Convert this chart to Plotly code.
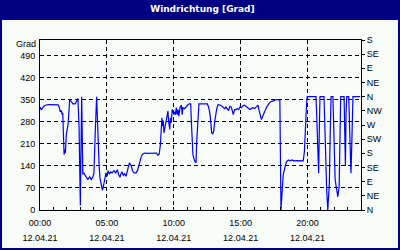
import pandas as pd
import plotly.graph_objects as go

DAY = "2021-04-12"
times = ["00:00","00:06","00:12","00:21","00:36","00:58","01:21","01:27","01:31","01:36","01:39","01:42","01:45","01:48","01:51","01:54","01:58","02:06","02:10","02:13","02:20","02:28","02:38","02:44","02:50","02:55","02:58","03:01","03:04","03:07","03:12","03:17","03:26","03:35","03:43","03:50","03:58","04:02","04:08","04:11","04:14","04:17","04:20","04:25","04:29","04:35","04:40","04:46","04:50","04:56","05:01","05:05","05:11","05:17","05:23","05:32","05:40","05:47","05:53","05:59","06:03","06:08","06:14","06:20","06:26","06:32","06:41","06:50","06:56","07:02","07:11","07:17","07:23","07:29","07:35","07:41","07:50","08:04","08:19","08:34","08:43","08:49","08:55","09:00","09:04","09:07","09:10","09:13","09:16","09:21","09:27","09:31","09:34","09:37","09:42","09:45","09:49","09:53","09:56","10:01","10:04","10:08","10:11","10:16","10:19","10:23","10:28","10:34","10:38","10:41","10:49","10:56","11:04","11:13","11:16","11:19","11:22","11:26","11:34","11:40","11:43","11:47","11:53","12:01","12:16","12:31","12:37","12:43","12:47","12:50","12:55","12:59","13:04","13:08","13:13","13:19","13:28","13:34","13:43","13:49","13:54","14:00","14:06","14:12","14:18","14:23","14:27","14:33","14:39","14:45","14:51","14:57","15:03","15:09","15:15","15:21","15:27","15:33","15:41","15:48","15:55","16:03","16:10","16:18","16:22","16:27","16:33","16:39","16:45","16:51","16:57","17:06","17:15","17:24","17:33","17:42","17:51","17:56","18:01","18:07","18:11","18:19","18:26","18:34","18:41","18:50","18:59","19:13","19:26","19:41","19:46","19:49","19:53","19:56","19:59","20:38","20:41","20:46","20:50","20:53","20:56","21:14","21:16","21:22","21:26","21:31","21:35","21:38","21:42","21:46","21:54","21:57","22:04","22:11","22:16","22:22","22:26","22:29","22:44","22:47","22:50","22:53","22:56","23:05","23:08","23:11","23:15","23:18","23:21","23:24","23:56"]
degrees = [327,318,325,332,335,335,334,325,312,316,303,309,261,176,192,181,240,272,314,351,344,337,337,344,354,272,102,14,200,360,115,117,106,97,106,97,106,118,250,303,360,303,229,144,102,81,62,81,96,118,107,125,114,121,118,125,118,128,112,104,115,121,110,115,107,121,150,139,123,118,118,125,139,160,171,178,181,180,180,179,181,174,178,208,282,293,266,284,245,266,287,303,314,282,256,293,277,319,314,303,312,303,325,303,319,298,325,333,303,325,322,329,335,338,337,282,208,176,155,150,218,282,337,337,337,337,325,303,271,245,242,250,282,303,322,335,333,331,325,322,327,322,316,329,327,314,303,319,319,322,319,327,325,330,333,331,327,322,319,322,325,322,327,333,319,301,287,298,308,319,327,337,344,346,348,351,350,350,0,85,111,137,154,159,156,159,156,157,156,156,185,254,312,339,360,360,307,191,117,254,360,360,307,191,64,0,64,85,250,360,360,250,96,64,42,74,265,360,360,200,140,307,360,360,286,181,117,191,286,360,360]

left_vals = [0, 70, 140, 210, 280, 350, 420, 490]
unit_label = "Grad"
right_vals = [0, 45, 90, 135, 180, 225, 270, 315, 360, 405, 450, 495, 540]
right_text = ["N", "NE", "E", "SE", "S", "SW", "W", "NW", "N", "NE", "E", "SE", "S"]
x_range = ["2021-04-12 00:00", "2021-04-13 00:00"]
y_range = [0, 540]

x = pd.to_datetime([f"{DAY} {t}" for t in times])

BODY = "#f8fcf8"
NAVY = "#000080"
FONT = dict(family="Liberation Sans, Arial", size=9, color="black")
GRID = dict(showgrid=True, gridcolor="black", gridwidth=1, griddash="4px,3px")

fig = go.Figure()
fig.add_trace(go.Scatter(x=x, y=degrees, mode="lines",
                         line=dict(color="#0000ff", width=1.2), showlegend=False))
# same series bound to the secondary axes (transparent) so the date row and
# compass-direction axis get drawn
fig.add_trace(go.Scatter(x=x, y=degrees, mode="lines", xaxis="x2", yaxis="y2",
                         line=dict(color="rgba(0,0,0,0)", width=1),
                         hoverinfo="skip", showlegend=False))

fig.update_layout(
    width=400, height=250, autosize=False,
    margin=dict(l=40, r=39, t=40, b=40, pad=0),
    paper_bgcolor=NAVY, plot_bgcolor=BODY,
    font=FONT,
    title=dict(text="<b>Windrichtung [Grad]</b>", x=0.506, xanchor="center",
               y=1 - 8.5 / 250, yanchor="middle", yref="container",
               font=dict(family="DejaVu Sans", size=9, color="white")),
    xaxis=dict(type="date", range=x_range, dtick=5 * 3600000, tick0=x_range[0],
               tickformat="%H:%M", ticks="inside", ticklen=3, tickcolor="black",
               showline=True, linecolor="black", linewidth=1, mirror=True,
               zeroline=False, tickfont=FONT, ticklabelstandoff=4, automargin=False,
               minor=dict(dtick=3600000, ticks="inside", ticklen=3, tickcolor="black", showgrid=False),
               **GRID),
    xaxis2=dict(type="date", range=x_range, overlaying="x", anchor="y2", side="bottom",
                dtick=5 * 3600000, tick0=x_range[0], tickformat="%d.%m.%y",
                ticks="", showline=False, showgrid=False, zeroline=False,
                tickfont=FONT, ticklabelstandoff=21, automargin=False),
    yaxis=dict(range=y_range, tickvals=left_vals, ticks="",
               showline=True, linecolor="black", linewidth=1, mirror=True,
               zeroline=False, tickfont=FONT, ticklabelstandoff=2, automargin=False,
               **GRID),
    yaxis2=dict(range=y_range, overlaying="y", side="right", anchor="x2",
                tickvals=right_vals, ticktext=right_text, ticks="outside", ticklen=3,
                tickcolor="black", showline=False, showgrid=False, zeroline=False,
                tickfont=FONT, automargin=False),
)

# unit label at the top of the left axis
fig.add_annotation(text=unit_label, xref="paper", yref="paper", x=0, y=1,
                   xanchor="right", yanchor="middle", xshift=-3, yshift=-4,
                   borderpad=0, showarrow=False, font=FONT)

# light body inside the navy frame
fig.add_shape(type="rect", xref="paper", yref="paper",
              x0=(2 - 40) / 321, x1=(398 - 40) / 321,
              y0=(210 - 248) / 170, y1=(210 - 20) / 170,
              fillcolor=BODY, line=dict(width=0), layer="below")

fig.write_html("out.html")
